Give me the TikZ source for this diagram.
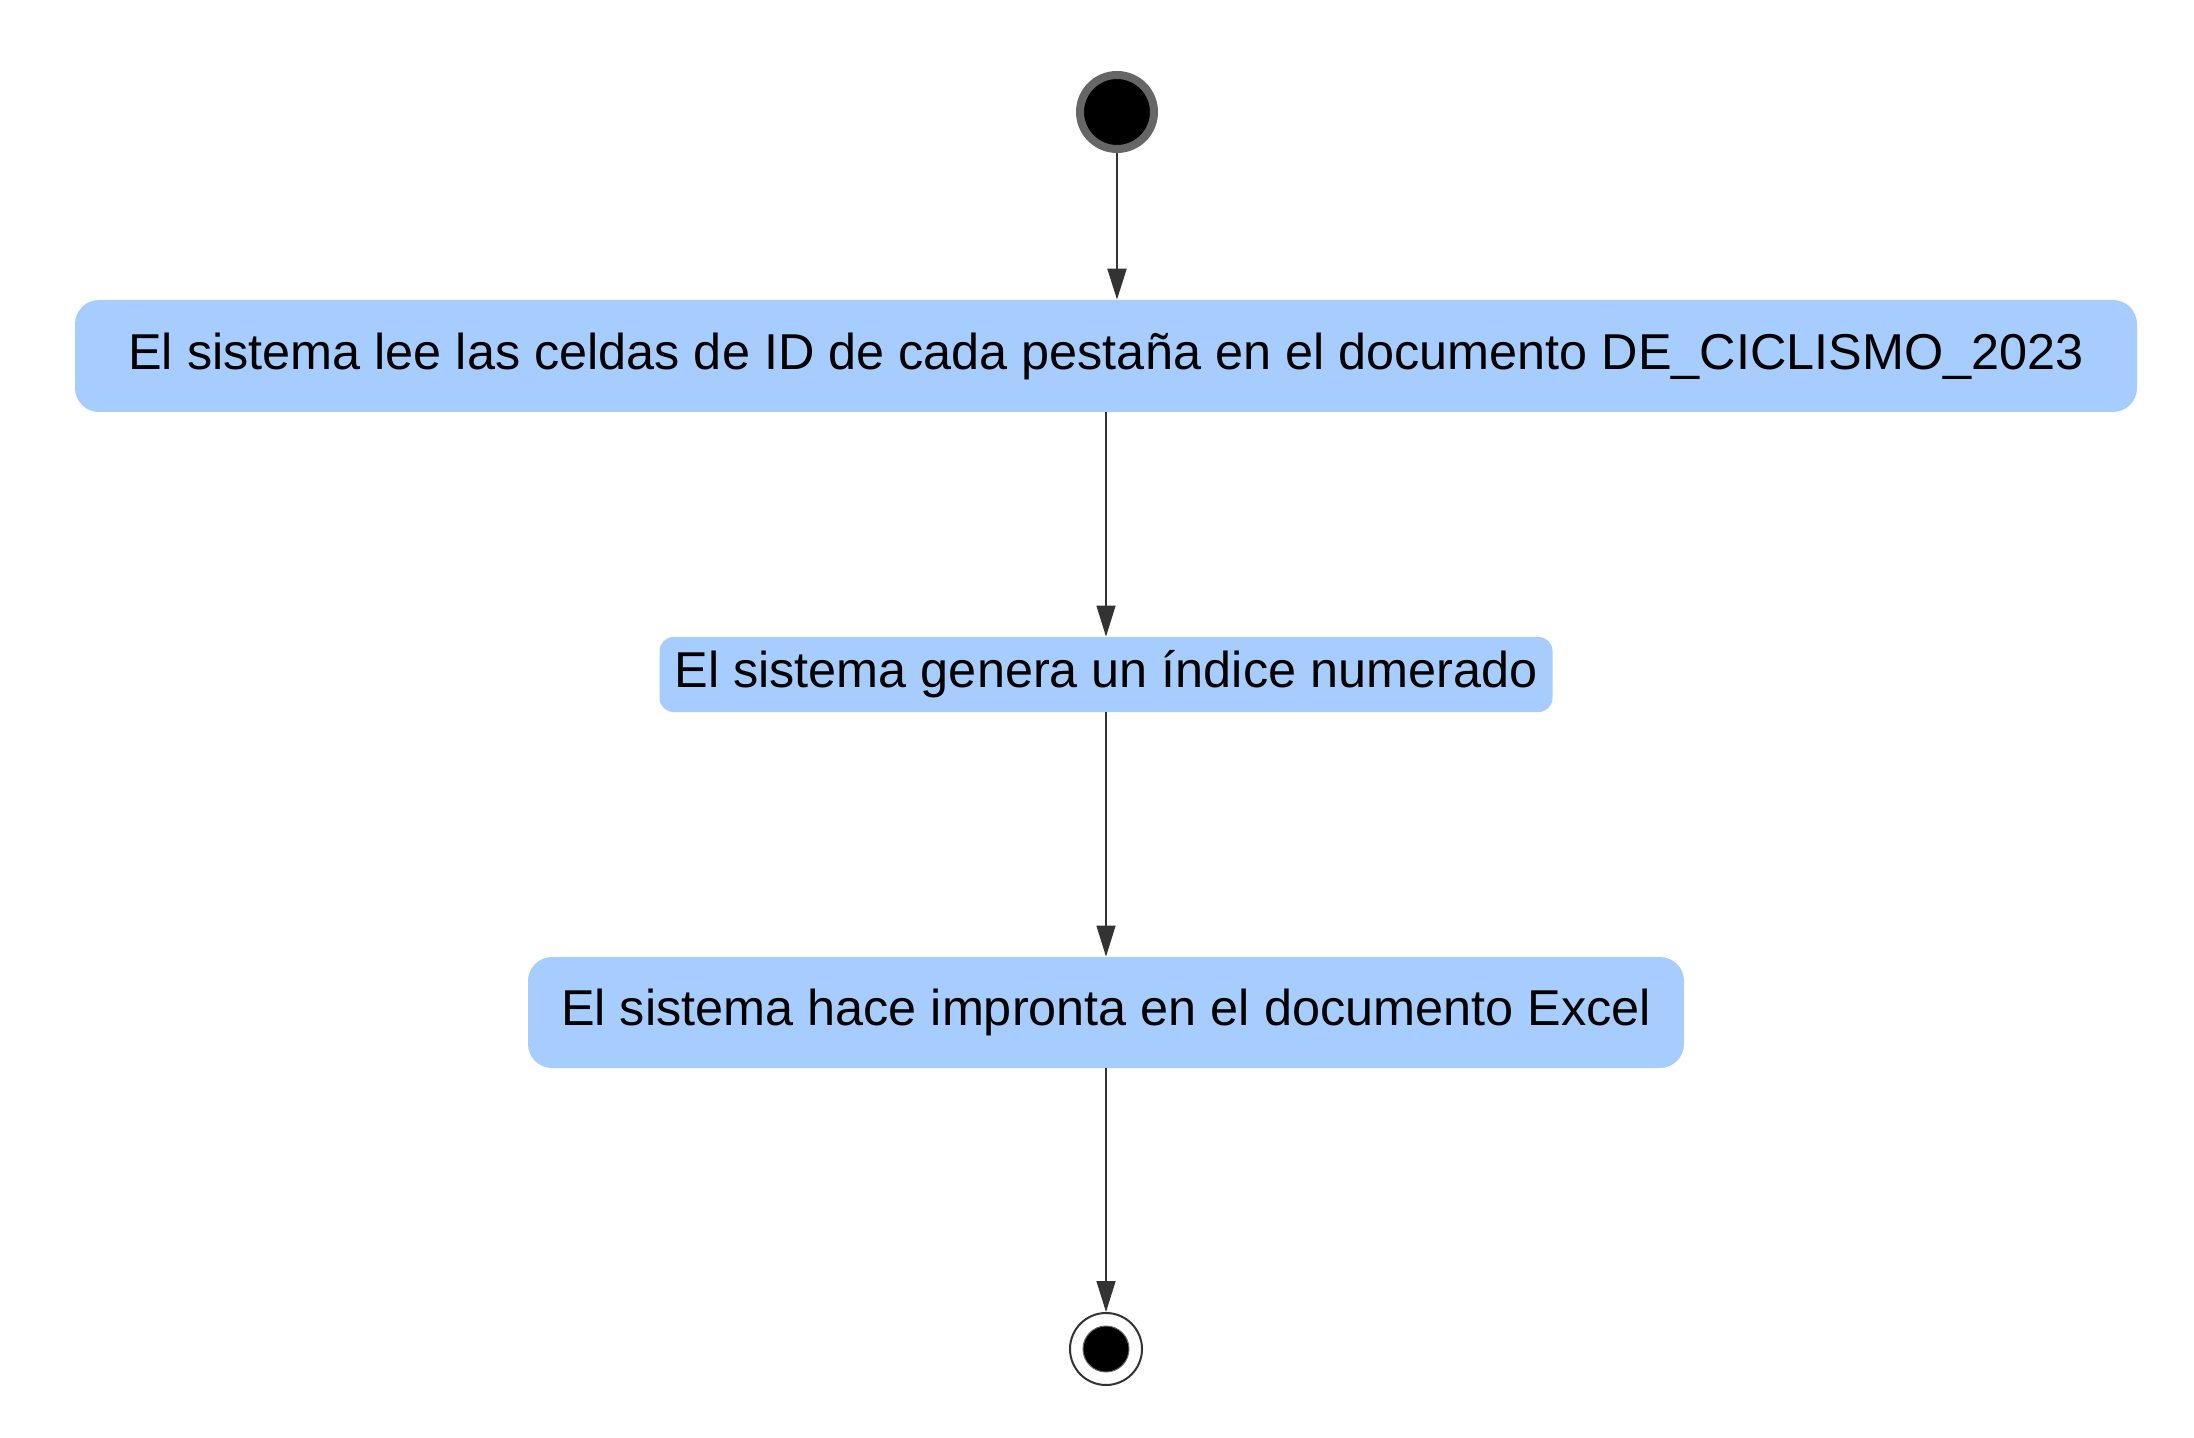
\documentclass[tikz,border=0pt]{standalone}
\usepackage{fontspec}
\setmainfont{Liberation Sans}
\usetikzlibrary{arrows.meta}
\definecolor{actblue}{HTML}{A6CDFD}
\definecolor{flowgrey}{HTML}{333333}
\definecolor{ringgrey}{HTML}{666666}
\begin{document}
\begin{tikzpicture}[x=0.5pt,y=-0.5pt,
		action/.style={rectangle,rounded corners=12pt,fill=actblue,inner sep=0pt,
			font=\fontsize{25.2}{30}\selectfont},
		flow/.style={draw=flowgrey,line width=0.7pt,-{Triangle[length=15.5pt,width=9.5pt]}}]
	\useasboundingbox (0,0) rectangle (2194,1438);
	\node[circle,draw=ringgrey,line width=4pt,fill=black,minimum size=37pt,inner sep=0pt] (start) at (1117,112) {};
	\node[action,minimum width=1031pt,minimum height=56pt] (read) at (1106,356) {El sistema lee las celdas de ID de cada pestaña en el documento DE\_CICLISMO\_2023};
	\node[action,rounded corners=7pt,minimum width=446.5pt,minimum height=37.5pt] (index) at (1106,674.5) {El sistema genera un índice numerado};
	\node[action,minimum width=578pt,minimum height=55.5pt] (excel) at (1106,1012.5) {El sistema hace impronta en el documento Excel};
	\node[circle,draw=flowgrey,line width=1pt,fill=white,minimum size=36pt,inner sep=0pt] (end) at (1106,1349) {};
	\node[circle,draw=ringgrey,line width=0.5pt,fill=black,minimum size=23pt,inner sep=0pt] (enddot) at (end) {};
	\draw[flow,line width=1.1pt] (start) -- (start |- read.north);
	\draw[flow] (read) -- (index);
	\draw[flow] (index) -- (excel);
	\draw[flow] (excel) -- (end);
\end{tikzpicture}
\end{document}
